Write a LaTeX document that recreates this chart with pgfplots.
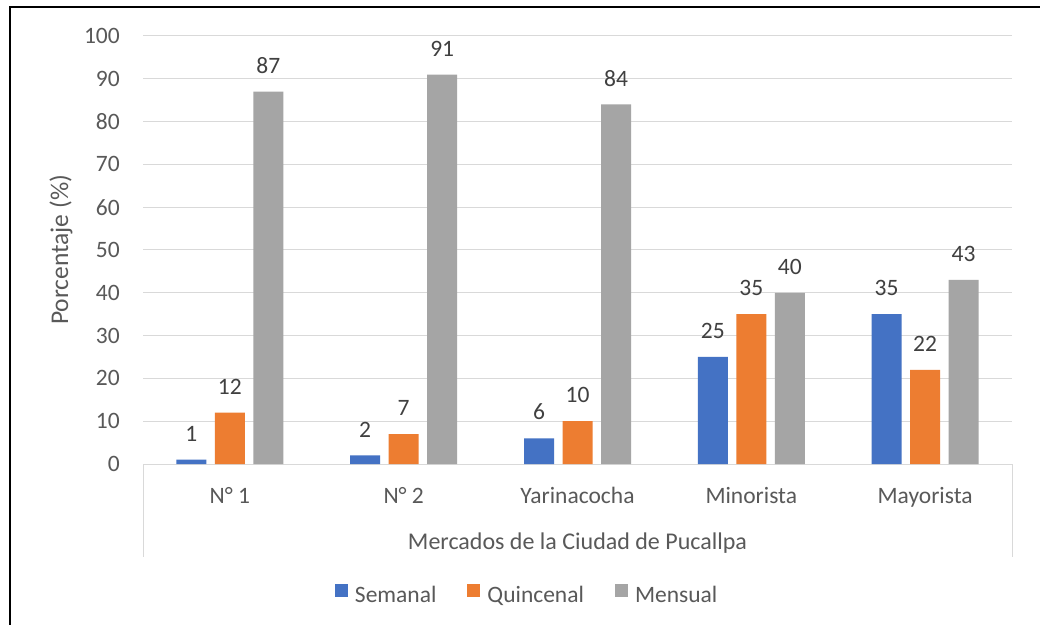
\documentclass[border=0pt]{standalone}
\usepackage{fontspec}
\setmainfont{Carlito}
\usepackage{pgfplots}
\pgfplotsset{compat=1.18}

\definecolor{cblue}{HTML}{4472C4}
\definecolor{corange}{HTML}{ED7D31}
\definecolor{cgray}{HTML}{A5A5A5}
\definecolor{txtgray}{HTML}{595959}
\definecolor{lblgray}{HTML}{404040}
\definecolor{gridgray}{HTML}{D9D9D9}

\newcommand{\fsmall}{\fontsize{23.5bp}{28bp}\selectfont}
\newcommand{\ftitle}{\fontsize{24bp}{29bp}\selectfont}
\newcommand{\fytitle}{\fontsize{25.5bp}{30bp}\selectfont}

\begin{document}
\begin{tikzpicture}
\useasboundingbox (0,0) rectangle (1040bp,625bp);
\fill[white] (0,0) rectangle (1040bp,625bp);
\draw[line width=2bp,black] (10bp,0) -- (10bp,618.3bp) -- (1040bp,618.3bp);
\begin{axis}[
  at={(143bp,161bp)}, anchor=south west,
  scale only axis, width=869bp, height=428bp,
  xmin=-0.5, xmax=4.5, ymin=0, ymax=100,
  ybar=8.5bp, bar width=30bp,
  clip=false,
  /pgf/number format/assume math mode=true,
  axis x line*=bottom, axis y line*=left,
  y axis line style={draw=none},
  x axis line style={draw=gridgray, line width=1bp},
  major tick length=0pt,
  tick style={draw=none},
  ymajorgrids, grid style={draw=gridgray, line width=1bp},
  ytick={0,10,...,100},
  xtick={0,1,2,3,4},
  xticklabels={N° 1, N° 2, Yarinacocha, Minorista, Mayorista},
  yticklabel style={font=\fsmall, text=txtgray, anchor=east, inner sep=0pt, xshift=-23bp},
  xticklabel style={font=\fsmall, text=txtgray, anchor=base, inner sep=0pt, yshift=-39bp},
  xlabel={Mercados de la Ciudad de Pucallpa},
  ylabel={Porcentaje (\%)},
  every axis x label/.style={at={(axis description cs:0.5,-0.2009)}, anchor=base, font=\ftitle, text=txtgray, inner sep=0pt},
  every axis y label/.style={at={(axis description cs:-0.0863,0.5)}, rotate=90, anchor=base, font=\fytitle, text=txtgray, inner sep=0pt},
  nodes near coords,
  every node near coord/.append style={font=\fsmall, text=lblgray, inner sep=0pt, yshift=18bp},
  legend columns=3,
  legend image code/.code={\fill[#1] (0bp,-1bp) rectangle (13bp,12bp);},
  legend style={draw=none, fill=none, inner sep=0pt, outer sep=0pt,
    at={(axis description cs:0.2209,-0.3037)}, anchor=west,
    font=\fsmall, text=txtgray,
    nodes={inner sep=0pt},
    /tikz/every odd column/.append style={column sep=7bp},
    /tikz/every even column/.append style={column sep=31bp}},
]
\addplot[fill=cblue, draw=none] coordinates {(0,1) (1,2) (2,6) (3,25) (4,35)};
\addplot[fill=corange, draw=none] coordinates {(0,12) (1,7) (2,10) (3,35) (4,22)};
\addplot[fill=cgray, draw=none] coordinates {(0,87) (1,91) (2,84) (3,40) (4,43)};
\legend{Semanal, Quincenal, Mensual}
% side walls of the category label band
\draw[gridgray, line width=1bp] (rel axis cs:0,0) -- ([yshift=-93bp]rel axis cs:0,0);
\draw[gridgray, line width=1bp] (rel axis cs:1,0) -- ([yshift=-93bp]rel axis cs:1,0);
\end{axis}
\end{tikzpicture}
\end{document}
